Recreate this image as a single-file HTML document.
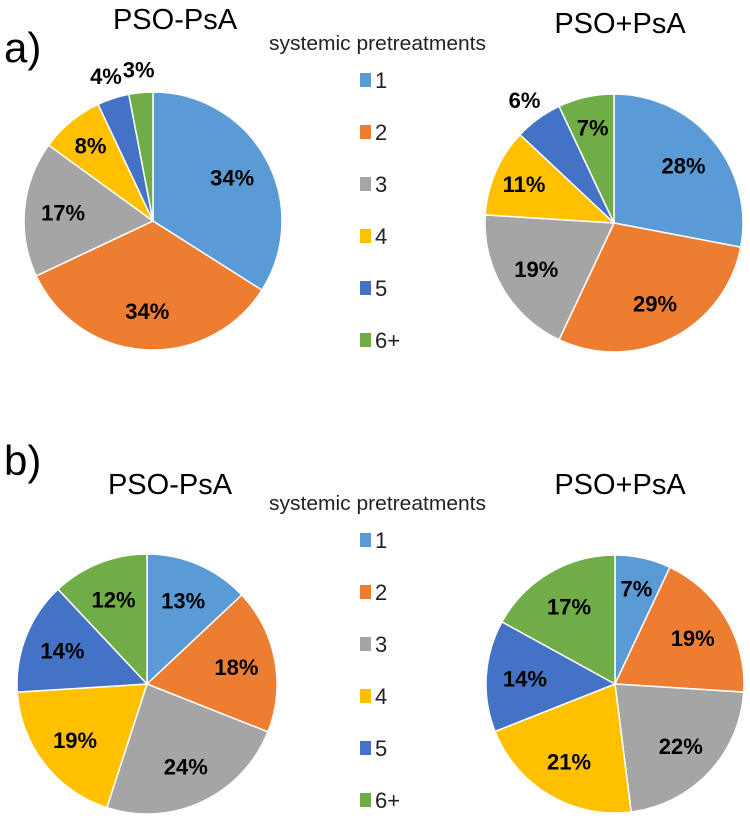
<!DOCTYPE html>
<html><head><meta charset="utf-8"><style>
body{margin:0;background:#fff;}
svg{display:block;font-family:"Liberation Sans",sans-serif;}
</style></head><body>
<svg id="c" width="750" height="824" viewBox="0 0 750 824">
<text x="4" y="62" font-size="42">a)</text>
<text x="4" y="475" font-size="42">b)</text>
</svg>
<script>
const categories = ["1","2","3","4","5","6+"];
const colors = ["#5B9BD5","#ED7D31","#A5A5A5","#FFC000","#4472C4","#70AD47"];
const aLeftValues = [34,34,17,8,4,3];
const aRightValues = [28,29,19,11,6,7];
const bLeftValues = [13,18,24,19,14,12];
const bRightValues = [7,19,22,21,14,17];
const panelTitles = ["PSO-PsA","PSO+PsA"];
const legendTitle = "systemic pretreatments";

const svg = document.getElementById('c');
const NS = "http://www.w3.org/2000/svg";
function mk(tag, attrs){const e=document.createElementNS(NS,tag);for(const k in attrs)e.setAttribute(k,attrs[k]);return e;}

function drawPie(values, cx, cy, r, name){
  const g = mk('g',{});
  
  
  svg.appendChild(g);
  const total = values.reduce((a,b)=>a+b,0);
  let acc = 0;
  values.forEach((v,i)=>{
    const a0 = acc/total*2*Math.PI; acc += v; const a1 = acc/total*2*Math.PI;
    const x0 = cx + r*Math.sin(a0), y0 = cy - r*Math.cos(a0);
    const x1 = cx + r*Math.sin(a1), y1 = cy - r*Math.cos(a1);
    const large = (a1-a0) > Math.PI ? 1 : 0;
    const p = mk('path',{d:`M${cx},${cy} L${x0},${y0} A${r},${r} 0 ${large} 1 ${x1},${y1} Z`, fill:colors[i], stroke:'#fff','stroke-width':1.5});
    
    
    g.appendChild(p);
    const am = (a0+a1)/2;
    const lr = v < 7 ? 1.18*r : (v <= 11 ? 0.76*r : 0.7*r);
    const t = mk('text',{x:cx+lr*Math.sin(am), y:cy - lr*Math.cos(am) + 8, 'text-anchor':'middle','font-size':22,'font-weight':'bold', fill:'#000'});
    t.textContent = v + '%';
    
    
    g.appendChild(t);
  });
}

function drawTitle(txt, x, y, name){
  const t = mk('text',{x:x,y:y,'text-anchor':'middle','font-size':29});
  t.textContent = txt;
  
  
  svg.appendChild(t);
}

function drawLegend(y0, name){
  const g = mk('g',{});
  
  
  svg.appendChild(g);
  const tt = mk('text',{x:269,y:y0,'font-size':20,textLength:217,lengthAdjust:'spacingAndGlyphs',fill:'#222'});
  tt.textContent = legendTitle;
  
  
  g.appendChild(tt);
  categories.forEach((c,i)=>{
    const yy = y0 + 30 + i*52;
    const e = mk('g',{});
    
    
    g.appendChild(e);
    e.appendChild(mk('rect',{x:360,y:yy-7,width:11,height:14,fill:colors[i]}));
    const t = mk('text',{x:375,y:yy+8,'font-size':22,fill:'#222'});
    t.textContent = c;
    e.appendChild(t);
  });
}

drawTitle(panelTitles[0], 175, 29, 'a-left-title');
drawTitle(panelTitles[1], 620, 33, 'a-right-title');
drawLegend(50, 'a-legend');
drawPie(aLeftValues, 153, 221, 129, 'a-left-pie');
drawPie(aRightValues, 614, 223, 129, 'a-right-pie');

drawTitle(panelTitles[0], 170, 494, 'b-left-title');
drawTitle(panelTitles[1], 620, 494, 'b-right-title');
drawLegend(510, 'b-legend');
drawPie(bLeftValues, 147, 684, 130, 'b-left-pie');
drawPie(bRightValues, 615, 684, 129, 'b-right-pie');
</script>
</body></html>
